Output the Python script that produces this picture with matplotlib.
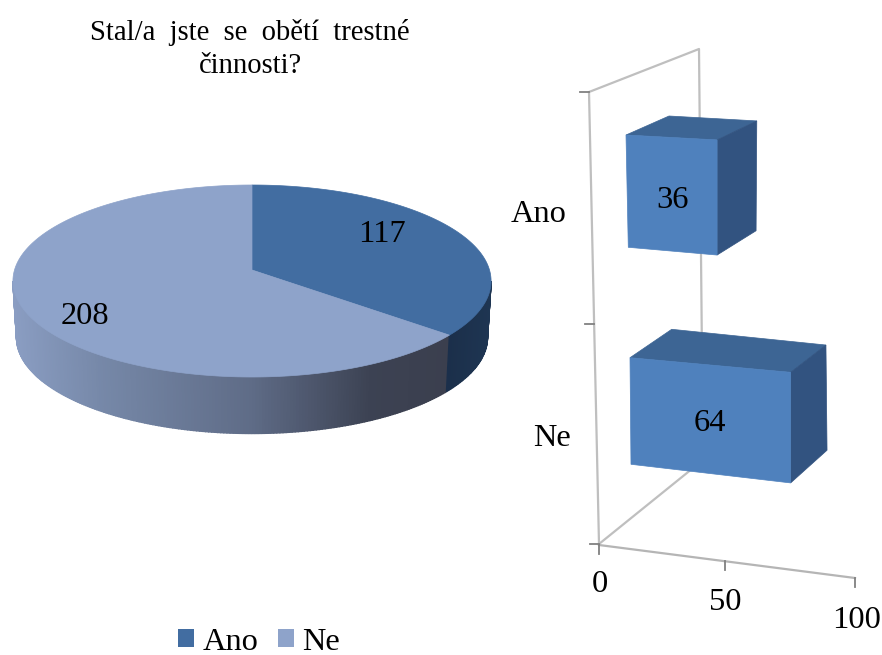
import numpy as np
import matplotlib
matplotlib.use('Agg')
import matplotlib.pyplot as plt
from matplotlib.patches import Polygon, Patch
from matplotlib.colors import to_rgb

# data
pie_title = 'Stal/a jste se obětí trestné\nčinnosti?'
pie_labels = ['Ano', 'Ne']
pie_values = [117, 208]
bar_categories = ['Ano', 'Ne']
bar_values = [36, 64]
x_ticks = [0, 50, 100]

plt.rcParams['font.family'] = ['Liberation Serif', 'DejaVu Serif']

fig = plt.figure(figsize=(8.82, 6.55), dpi=100)
ax = fig.add_axes([0, 0, 1, 1])
ax.set_xlim(0, 882)
ax.set_ylim(655, 0)
ax.axis('off')

FS = 23.4


# pie: a circle seen in perspective, angle measured clockwise from 12 o'clock
CX, RX, PERSP, A, B = 252.0, 237.5, -0.1146, 63.8, 270.0
DEPTH = 56.5


def pie_top(theta):
    u, v = np.sin(theta), -np.cos(theta)
    d = 1 + PERSP * v
    return CX + RX * u / d, (A * v + B) / d


def pie_bottom(theta):
    x, y = pie_top(theta)
    return CX + (x - CX) * 0.985, y + DEPTH


def shade(x, stops):
    xs = [s[0] for s in stops]
    cols = np.array([to_rgb(s[1]) for s in stops])
    return [np.interp(x, xs, cols[:, i]) for i in range(3)]


fractions = np.array(pie_values) / sum(pie_values)
split = 2 * np.pi * fractions[0]

# widest points of the outline, where the side starts and ends
t_right = np.pi / 2 + 0.115
t_left = 3 * np.pi / 2 - 0.115

side_light = [(13, '#8A9DC2'), (100, '#7688A8'), (250, '#5F6C87'), (370, '#3C4253'), (450, '#3B3F4E')]
side_dark = [(447, '#1B2F4A'), (490, '#1E3552')]

edges = np.linspace(split, t_left, 200)
for t0, t1 in zip(edges[:-1], edges[1:]):
    ts = np.array([t0, t1])
    xt, yt = pie_top(ts)
    xb, yb = pie_bottom(ts)
    col = shade(xt.mean(), side_light)
    ax.add_patch(Polygon(np.c_[np.r_[xt, xb[::-1]], np.r_[yt, yb[::-1]]], fc=col, ec=col, lw=1.0))

edges = np.linspace(t_right, split, 40)
for t0, t1 in zip(edges[:-1], edges[1:]):
    ts = np.array([t0, t1])
    xt, yt = pie_top(ts)
    xb, yb = pie_bottom(ts)
    col = shade(xt.mean(), side_dark)
    ax.add_patch(Polygon(np.c_[np.r_[xt, xb[::-1]], np.r_[yt, yb[::-1]]], fc=col, ec=col, lw=1.0))

pie_colors = ['#426DA1', '#8EA3CA']
start = 0.0
for frac, col in zip(fractions, pie_colors):
    ts = np.linspace(start, start + 2 * np.pi * frac, 200)
    xs, ys = pie_top(ts)
    ax.add_patch(Polygon(np.c_[np.r_[CX, xs], np.r_[B, ys]], fc=col, ec=col, lw=0.5, zorder=2))
    start += 2 * np.pi * frac

ax.text(382, 235, str(pie_values[0]), fontsize=FS, ha='center', va='center', zorder=5)
ax.text(85, 317, str(pie_values[1]), fontsize=FS, ha='center', va='center', zorder=5)

# the reference sets the title with wide word gaps
ax.text(250, 49, pie_title.replace(' ', '  '), fontsize=FS * 0.88, ha='center', va='center', linespacing=1.35)

legend_handles = [Patch(fc=c, ec='none', label=l) for c, l in zip(pie_colors, pie_labels)]
ax.legend(handles=legend_handles, loc='center left', bbox_to_anchor=(178 / 882, 1 - 642 / 655),
          ncol=2, frameon=False, fontsize=FS, handlelength=0.49, handleheight=0.49,
          handletextpad=0.26, columnspacing=0.6, borderpad=0, borderaxespad=0)

# wall and floor of the bar chart
wall = '#BFBFBF'
ax.plot([599, 589, 699, 703], [544, 92, 49, 460], color=wall, lw=1.6, zorder=1)
ax.plot([599, 703], [544, 460], color=wall, lw=1.6, zorder=1)
ax.plot([599, 855], [545, 578], color='#B5B5B5', lw=1.6, zorder=1)

# value axis, the steps grow a little towards the viewer
UX = 2.481
PX = 0.000308
UY = 33 / 256.0
tick_col = '#808080'
x_label_pos = [(600, 585), (725, 602), (857, 621)]
for val, pos in zip(x_ticks, x_label_pos):
    dx = val * UX / (1 - PX * val)
    tx, ty = 599 + dx, 545 + dx * UY
    ax.plot([tx, tx], [ty, ty + 9], color=tick_col, lw=1.3, zorder=1)
    ax.text(pos[0], pos[1], str(val), fontsize=FS, ha='center', va='center')
for ty, tx in zip([92, 324, 544], [589, 594, 599]):
    ax.plot([tx - 9, tx], [ty, ty], color=tick_col, lw=1.3, zorder=1)

ax.text(539, 214, bar_categories[0], fontsize=FS, ha='center', va='center')
ax.text(552, 438, bar_categories[1], fontsize=FS, ha='center', va='center')

# bars: left front edge, slopes of the front face and depth offsets
bar_geom = [
    dict(tl=(626, 135), bl=(628.3, 247.3), w=2.53, st=0.054, sb=0.085,
         dl=(43, -19), dr=(39.7, -19), drb=(39, -24.3)),
    dict(tl=(630, 357.7), bl=(631, 464.3), w=2.51, st=0.091, sb=0.116,
         dl=(41.7, -28.4), dr=(35.3, -27.3), drb=(36.4, -32.7)),
]
front_col, top_col, side_col = '#4F81BD', '#3D6594', '#325380'
label_offset = [(47, 65), (80, 66)]
for val, g, off in zip(bar_values, bar_geom, label_offset):
    w = val * g['w']
    tl = np.array(g['tl'])
    bl = np.array(g['bl'])
    tr = tl + [w, w * g['st']]
    br = np.array([tl[0] + w, bl[1] + w * g['sb']])
    ax.add_patch(Polygon([tl, tl + g['dl'], tr + g['dr'], tr], fc=top_col, ec=top_col, lw=0.5, zorder=3))
    ax.add_patch(Polygon([tr, tr + g['dr'], br + g['drb'], br], fc=side_col, ec=side_col, lw=0.5, zorder=3))
    ax.add_patch(Polygon([tl, tr, br, bl], fc=front_col, ec=front_col, lw=0.5, zorder=3))
    ax.text(tl[0] + off[0], tl[1] + off[1], str(val), fontsize=FS, ha='center', va='center', zorder=5)

fig.savefig('out.png', dpi=100)
